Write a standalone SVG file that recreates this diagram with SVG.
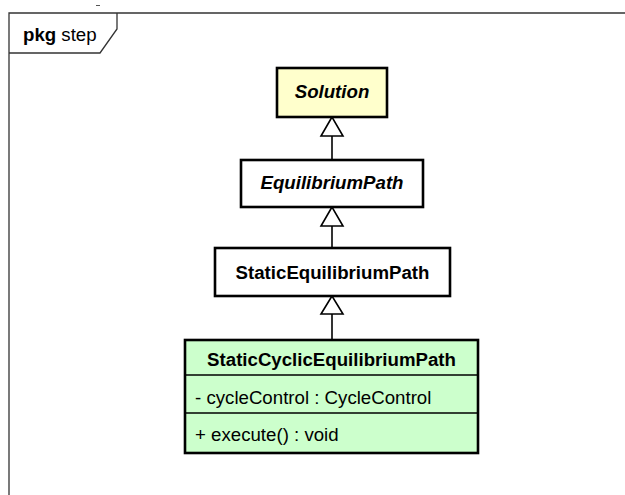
<svg xmlns="http://www.w3.org/2000/svg" width="625" height="495" viewBox="0 0 625 495">
  <style>
    .frame { fill: none; stroke: #333333; stroke-width: 1.3; }
    .box { stroke: #000000; stroke-width: 2.6; }
    .sep { stroke: #000000; stroke-width: 1.3; }
    .edge { stroke: #000000; stroke-width: 1.6; fill: none; }
    .head { fill: #ffffff; stroke: #000000; stroke-width: 1.6; }
    text { font-family: "Liberation Sans", Arial, sans-serif; font-size: 18.67px; fill: #000000; }
    .title { font-weight: bold; text-anchor: middle; }
    .abstract { font-style: italic; }
  </style>

  <rect width="625" height="495" fill="#ffffff"/>

  <!-- package frame with name tab -->
  <g id="pkg-step">
    <path class="frame" d="M9,495 V13 H625"/>
    <path class="frame" d="M9,53 H100 L117,29 V13"/>
    <text x="23" y="41" font-size="18"><tspan font-weight="bold">pkg</tspan> step</text>
    <line x1="96" y1="5.5" x2="100" y2="5.5" stroke="#555555" stroke-width="1"/>
  </g>

  <!-- generalization connectors -->
  <g id="connectors">
    <line class="edge" x1="332" y1="136" x2="332" y2="160"/>
    <polygon class="head" points="332,117 321,136 343,136"/>
    <line class="edge" x1="332" y1="226" x2="332" y2="248"/>
    <polygon class="head" points="332,207 321,226 343,226"/>
    <line class="edge" x1="332" y1="314" x2="332" y2="340"/>
    <polygon class="head" points="332,296 321,314 343,314"/>
  </g>

  <g id="Solution">
    <rect class="box" x="277" y="68" width="110" height="49" fill="#ffffcc"/>
    <text class="title abstract" x="332" y="98">Solution</text>
  </g>

  <g id="EquilibriumPath">
    <rect class="box" x="241" y="160" width="182" height="47" fill="#ffffff"/>
    <text class="title abstract" x="332" y="189">EquilibriumPath</text>
  </g>

  <g id="StaticEquilibriumPath">
    <rect class="box" x="215" y="248" width="235" height="48" fill="#ffffff"/>
    <text class="title" x="332.5" y="279">StaticEquilibriumPath</text>
  </g>

  <g id="StaticCyclicEquilibriumPath">
    <rect class="box" x="185" y="340" width="293" height="113" fill="#ccffcc"/>
    <line class="sep" x1="185" y1="375" x2="478" y2="375"/>
    <line class="sep" x1="185" y1="413" x2="478" y2="413"/>
    <text class="title" x="331.5" y="366">StaticCyclicEquilibriumPath</text>
    <text x="195" y="404">- cycleControl : CycleControl</text>
    <text x="195" y="441">+ execute() : void</text>
  </g>
</svg>
